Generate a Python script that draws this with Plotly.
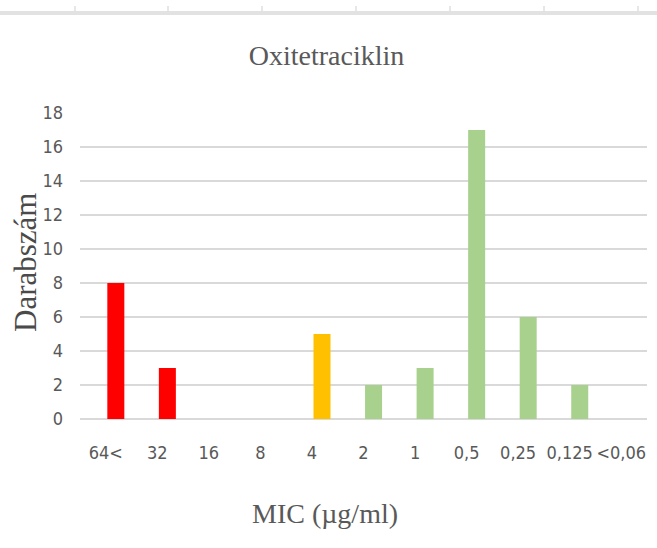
import plotly.graph_objects as go

categories = ["64<", "32", "16", "8", "4", "2", "1", "0,5", "0,25", "0,125", "<0,06"]
counts = [8, 3, 0, 0, 5, 2, 3, 17, 6, 2, 0]
bar_colors = ["#FF0000", "#FF0000", "#FF0000", "#FF0000", "#FFC000",
              "#A9D18E", "#A9D18E", "#A9D18E", "#A9D18E", "#A9D18E", "#A9D18E"]
y_ticks = [0, 2, 4, 6, 8, 10, 12, 14, 16, 18]

W, H = 657, 548
L, R, T, B = 80, 10, 113, 129
pw, ph = W - L - R, H - T - B

def px(x):
    return (x - L) / pw

def py(y):
    return (H - B - y) / ph

fig = go.Figure()
fig.add_trace(go.Bar(
    x=categories, y=counts, marker_color=bar_colors,
    marker_line_width=0, width=0.33, offset=0.03,
))

tick_font = dict(family="DejaVu Sans Condensed, Liberation Sans, sans-serif",
                 size=18, color="#595959")
serif = "Liberation Serif, Times New Roman, serif"

fig.update_layout(
    width=W, height=H,
    margin=dict(l=L, r=R, t=T, b=B, autoexpand=False),
    paper_bgcolor="white", plot_bgcolor="white",
    showlegend=False,
    title=dict(text="Oxitetraciklin", x=0.497, xanchor="center",
               y=1 - 55 / H, yanchor="middle",
               font=dict(family=serif, size=28, color="#595959")),
    xaxis=dict(type="category", range=[-0.5, 10.5], showgrid=False,
               showline=False, ticks="", tickfont=tick_font, tickangle=0,
               automargin=False, ticklabelstandoff=21, fixedrange=True),
    yaxis=dict(range=[0, 18], tickvals=y_ticks, showgrid=True,
               gridcolor="#D9D9D9", gridwidth=2, zeroline=True,
               zerolinecolor="#D9D9D9", zerolinewidth=2, automargin=False,
               showline=False, ticks="", tickfont=tick_font,
               ticklabelstandoff=16),
    annotations=[
        dict(text="MIC (µg/ml)", xref="paper", yref="paper",
             x=px(325), y=py(513), xanchor="center", yanchor="middle",
             showarrow=False, font=dict(family=serif, size=28, color="#595959")),
        dict(text="Darabszám", xref="paper", yref="paper",
             x=px(25), y=py(263), xanchor="center", yanchor="middle",
             textangle=-90, showarrow=False,
             font=dict(family=serif, size=31, color="#4A4A4A")),
    ],
)

# spreadsheet ruler artifact at the top
shapes = [dict(type="rect", xref="paper", yref="paper",
               x0=px(0), x1=px(W), y0=py(15), y1=py(11),
               fillcolor="#E2E2E2", line_width=0, layer="below")]
for tx in [75, 168, 262, 356, 450, 544, 638]:
    shapes.append(dict(type="line", xref="paper", yref="paper",
                       x0=px(tx), x1=px(tx), y0=py(11), y1=py(6),
                       line=dict(color="#CFCFCF", width=1)))
fig.update_layout(shapes=shapes)

fig.write_html("out.html")
